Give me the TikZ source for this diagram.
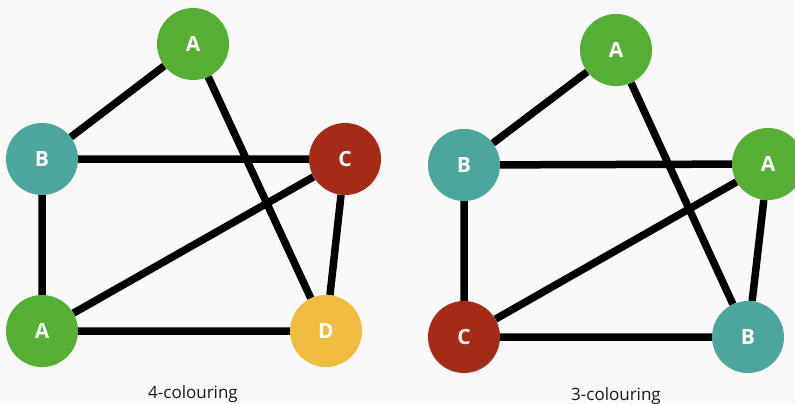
\documentclass[tikz,border=0pt]{standalone}
\usepackage{fontspec}
\setmainfont{Open Sans}
\definecolor{cgreen}{HTML}{56AE35}
\definecolor{cteal}{HTML}{4CA69E}
\definecolor{cred}{HTML}{A52B19}
\definecolor{cyellow}{HTML}{F0BC3F}
\definecolor{bg}{HTML}{F9F9F9}
\tikzset{
  vert/.style={circle, minimum size=72pt, inner sep=0pt, text=white, font=\fontsize{21}{21}\selectfont\bfseries},
  edge/.style={line width=7.5pt},
  captext/.style={font=\fontsize{17}{17}\selectfont, text=black!90}
}
\begin{document}
\begin{tikzpicture}[x=1pt,y=-1pt]
\fill[bg] (0,0) rectangle (795,404);
\useasboundingbox (0,0) rectangle (795,404);
% left graph
\node[vert, fill=cgreen] (la) at (193,44) {A};
\node[vert, fill=cteal] (lb) at (42,159) {B};
\node[vert, fill=cred] (lc) at (345,159) {C};
\node[vert, fill=cgreen] (la2) at (42,331) {A};
\node[vert, fill=cyellow] (ld) at (326,331) {D};
% right graph
\node[vert, fill=cgreen] (ra) at (616,50) {A};
\node[vert, fill=cteal] (rb) at (464,165) {B};
\node[vert, fill=cgreen] (ra2) at (768,164) {A};
\node[vert, fill=cred] (rc) at (464,337) {C};
\node[vert, fill=cteal] (rb2) at (748,337) {B};
\draw[edge] (la) -- (lb) (la) -- (ld) (lb) -- (lc) (lb) -- (la2) (lc) -- (la2) (lc) -- (ld) (la2) -- (ld);
\draw[edge] (ra) -- (rb) (ra) -- (rb2) (rb) -- (ra2) (rb) -- (rc) (ra2) -- (rc) (ra2) -- (rb2) (rc) -- (rb2);
\node[captext] (c1) at (193,394) {4-colouring};
\node[captext] (c2) at (616,396) {3-colouring};
\end{tikzpicture}
\end{document}
